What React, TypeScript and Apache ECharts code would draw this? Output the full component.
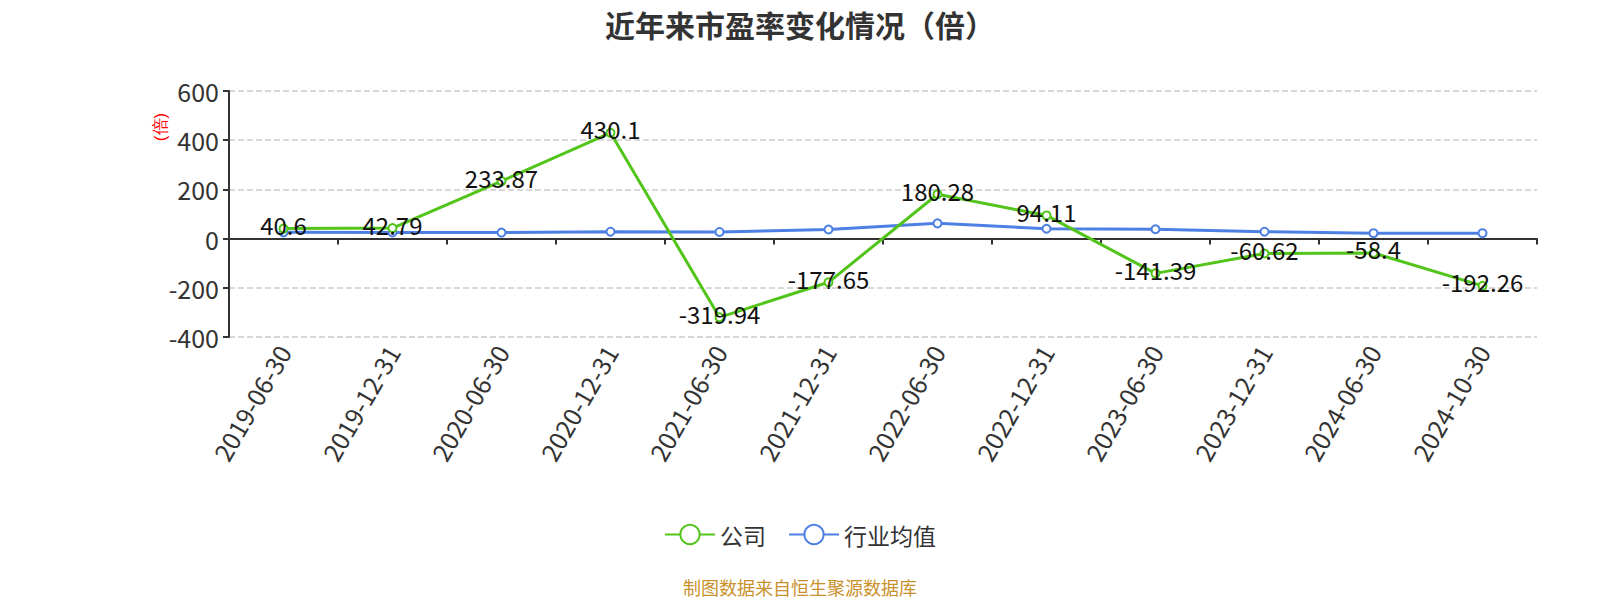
import React, { useEffect, useRef } from "react";
import * as echarts from "echarts";

const categories = [
  "2019-06-30", "2019-12-31", "2020-06-30", "2020-12-31", "2021-06-30", "2021-12-31",
  "2022-06-30", "2022-12-31", "2023-06-30", "2023-12-31", "2024-06-30", "2024-10-30",
];
const companyValues = [40.6, 42.79, 233.87, 430.1, -319.94, -177.65, 180.28, 94.11, -141.39, -60.62, -58.4, -192.26];
const industryValues = [25.5, 25, 24.5, 28, 27, 37, 62, 40, 38, 28, 22, 22];
const seriesNames = ["公司", "行业均值"];
const titleText = "近年来市盈率变化情况（倍）";
const footerText = "制图数据来自恒生聚源数据库";
const unitText = "(倍)";

const GREEN = "#52c41a";
const BLUE = "#4e80e3";

export default function App() {
  const ref = useRef<HTMLDivElement>(null);
  useEffect(() => {
    if (!ref.current) return;
    const chart = echarts.init(ref.current, null, { renderer: "svg" });
    chart.setOption({
      animation: false,
      textStyle: { fontFamily: "'Noto Sans CJK SC', 'Noto Sans', sans-serif" },
      title: [
        {
          text: titleText,
          left: "center",
          top: 4,
          textStyle: { fontSize: 30, fontWeight: "bold", color: "#333" },
        },
        {
          text: footerText,
          left: "center",
          top: 573,
          textStyle: { fontSize: 18, fontWeight: "normal", color: "#c9912c" },
        },
      ],
      legend: {
        data: seriesNames,
        left: "center",
        top: 518,
        itemWidth: 50,
        itemHeight: 24,
        itemGap: 22,
        textStyle: { fontSize: 23, color: "#333" },
      },
      grid: { left: 229, right: 63, top: 91, bottom: 263, containLabel: false },
      graphic: [
        {
          type: "text",
          x: 160,
          y: 127,
          rotation: Math.PI / 2,
          style: {
            text: unitText,
            fill: "#ff0000",
            fontSize: 17,
            align: "center",
            verticalAlign: "middle",
          },
        },
      ],
      xAxis: [
        {
          type: "category",
          data: categories,
          boundaryGap: true,
          position: "bottom",
          axisLine: { show: true, onZero: true, lineStyle: { color: "#333", width: 2 } },
          axisTick: { show: true, length: 6, lineStyle: { color: "#333", width: 2 } },
          axisLabel: { show: false },
        },
        {
          type: "category",
          data: categories,
          boundaryGap: true,
          position: "bottom",
          axisLine: { show: false, onZero: false },
          axisTick: { show: false },
          axisLabel: { show: true, rotate: 60, fontSize: 25, color: "#333", margin: 10 },
        },
      ],
      yAxis: {
        type: "value",
        min: -400,
        max: 600,
        interval: 200,
        axisLine: { show: true, lineStyle: { color: "#333", width: 2 } },
        axisTick: { show: true, length: 6, lineStyle: { color: "#333", width: 2 } },
        axisLabel: { fontSize: 25, color: "#333", margin: 10 },
        splitLine: { show: true, lineStyle: { type: "dashed", color: "#ccc", width: 1.5 } },
      },
      series: [
        {
          name: seriesNames[0],
          type: "line",
          xAxisIndex: 0,
          data: companyValues,
          symbol: "emptyCircle",
          symbolSize: 8,
          itemStyle: { color: GREEN },
          lineStyle: { color: GREEN, width: 3 },
          label: {
            show: true,
            position: "inside",
            offset: [0, -4],
            fontSize: 24,
            color: "#111",
          },
          z: 3,
        },
        {
          name: seriesNames[1],
          type: "line",
          xAxisIndex: 0,
          data: industryValues,
          symbol: "emptyCircle",
          symbolSize: 8,
          itemStyle: { color: BLUE },
          lineStyle: { color: BLUE, width: 3 },
          label: { show: false },
          z: 2,
        },
      ],
    });
    return () => chart.dispose();
  }, []);
  return (
    <div
      ref={ref}
      style={{ position: "absolute", left: 0, top: 0, width: 1600, height: 600 }}
    />
  );
}
